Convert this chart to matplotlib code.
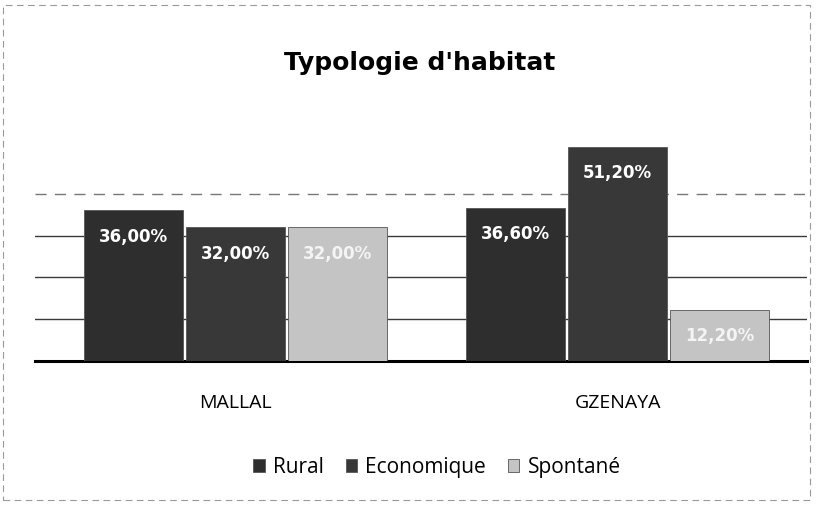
import numpy as np
import matplotlib.pyplot as plt
from matplotlib.patches import Rectangle

# données
categories = ['MALLAL', 'GZENAYA']
series = ['Rural', 'Economique', 'Spontané']
rural = [36.00, 36.60]
economique = [32.00, 51.20]
spontane = [32.00, 12.20]
values = [rural, economique, spontane]

colors = ['#2e2e2e', '#383838', '#c4c4c4']
label_colors = ['white', 'white', '#f4f4f4']

fig = plt.figure(figsize=(8.23, 5.05), dpi=100)
ax = fig.add_axes([0.043, 0.285, 0.937, 0.497])

x = np.arange(len(categories))
width = 0.267
for i, (name, vals) in enumerate(zip(series, values)):
    pos = x + (i - 1) * width
    bars = ax.bar(pos, vals, width * 0.97, color=colors[i], label=name,
                  edgecolor='#555555', linewidth=0.6, zorder=3)
    for b, v in zip(bars, vals):
        txt = f'{v:.2f}%'.replace('.', ',')
        ypos = max(v - 6.3, v * 0.45)
        ax.text(b.get_x() + b.get_width() / 2, ypos, txt, ha='center', va='center',
                color=label_colors[i], fontsize=12, fontweight='bold',
                family='DejaVu Sans', zorder=4)

ax.set_xlim(-0.524, 1.494)
ax.set_ylim(0, 60)
for lvl in [10, 20, 30]:
    ax.axhline(lvl, color='#3a3a3a', linewidth=1.0, zorder=0)
ax.axhline(40, color='#777777', linewidth=1.0, linestyle=(0, (8, 6)), zorder=0)
ax.set_yticks([])
ax.set_xticks(x)
ax.set_xticklabels(categories, family='Open Sans', fontsize=14)
ax.tick_params(axis='x', length=0, pad=24)
for s in ['top', 'right', 'left']:
    ax.spines[s].set_visible(False)
ax.spines['bottom'].set_linewidth(2.2)
ax.spines['bottom'].set_color('black')

fig.text(0.51, 0.875, "Typologie d'habitat", ha='center', va='center',
         fontsize=18, fontweight='bold', family='DejaVu Sans')

fig.legend(loc='center', bbox_to_anchor=(0.531, 0.075), ncol=3, frameon=False,
           prop={'family': 'Open Sans', 'size': 15}, handlelength=0.55,
           handleheight=0.55, handletextpad=0.4, columnspacing=1.05)

# cadre en pointillés autour du graphique
fig.patches.append(Rectangle((0.004, 0.01), 0.98, 0.98, transform=fig.transFigure,
                             fill=False, edgecolor='#999999', linestyle=(0, (6, 4)),
                             linewidth=0.8))

fig.savefig('out.png', dpi=100)
